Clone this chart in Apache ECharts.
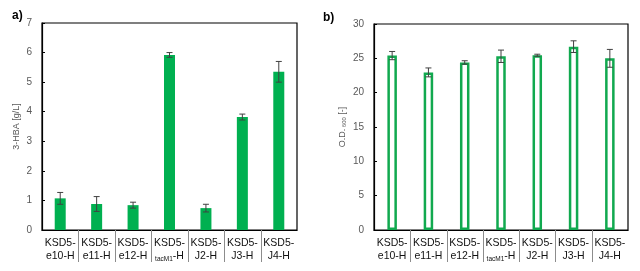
<!DOCTYPE html>
<html><head><meta charset="utf-8">
<script src="https://cdn.jsdelivr.net/npm/echarts@6/dist/echarts.min.js"></script>
<style>html,body{margin:0;padding:0;background:#fff}#c{width:640px;height:271px}</style>
</head><body><div id="c"></div>
<script>
const categories = ['e10-H','e11-H','e12-H','tacM1-H','J2-H','J3-H','J4-H'];
const hbaValues = [1.07, 0.88, 0.84, 5.92, 0.74, 3.82, 5.35];
const hbaErrors = [0.20, 0.25, 0.10, 0.08, 0.13, 0.10, 0.35];
const odValues = [25.4, 22.95, 24.4, 25.3, 25.45, 26.7, 25.0];
const odErrors = [0.6, 0.65, 0.25, 0.9, 0.15, 0.85, 1.3];
const leftTicks = {min: 0, max: 7, interval: 1};
const rightTicks = {min: 0, max: 30, interval: 5};

const chart = echarts.init(document.getElementById('c'), null, {renderer: 'canvas'});
const FONT = 'Liberation Sans';
function fmtCat(v) {
  if (v === 'tacM1-H') return '{a|KSD5-}\n{s|tacM1}{a|-H}';
  return '{a|KSD5-}\n{a|' + v + '}';
}
const xLabel = {
  interval: 0, margin: 7, formatter: fmtCat, lineHeight: 13,
  rich: {
    a: {fontFamily: FONT, fontSize: 10.5, color: '#111', lineHeight: 13},
    s: {fontFamily: FONT, fontSize: 6.5, color: '#111', lineHeight: 13, verticalAlign: 'bottom'}
  }
};
function xAxis(gi) {
  return {
    type: 'category', gridIndex: gi, data: categories,
    axisLine: {lineStyle: {color: '#000', width: 1.2}},
    axisTick: {show: false},
    axisLabel: xLabel
  };
}
function sepSeries(gi) {
  return {
    type: 'custom', xAxisIndex: gi, yAxisIndex: gi, clip: false, silent: true,
    data: categories.slice(1).map((c, i) => [i + 1, 0]),
    renderItem: function (params, api) {
      const p = api.coord([api.value(0), 0]);
      const bw = api.size([1, 0])[0];
      const x = Math.round(p[0] - bw / 2) + 0.5;
      return {type: 'line', shape: {x1: x, y1: p[1], x2: x, y2: p[1] + 32},
              style: {stroke: '#8c8c8c', lineWidth: 1}};
    }
  };
}
function errSeries(gi, vals, errs) {
  return {
    type: 'custom', xAxisIndex: gi, yAxisIndex: gi, z: 10,
    data: vals.map((v, i) => [i, v, errs[i]]),
    renderItem: function (params, api) {
      const x = api.value(0), y = api.value(1), e = api.value(2);
      const hi = api.coord([x, y + e]);
      const lo = api.coord([x, y - e]);
      const w = 3;
      const st = {stroke: '#404040', lineWidth: 1};
      return {type: 'group', children: [
        {type: 'line', shape: {x1: hi[0], y1: hi[1], x2: lo[0], y2: lo[1]}, style: st},
        {type: 'line', shape: {x1: hi[0] - w, y1: hi[1], x2: hi[0] + w, y2: hi[1]}, style: st},
        {type: 'line', shape: {x1: lo[0] - w, y1: lo[1], x2: lo[0] + w, y2: lo[1]}, style: st}
      ]};
    }
  };
}
const yLabel = {fontFamily: FONT, fontSize: 10, color: '#595959', margin: 10};
const yTick = {show: true, inside: true, length: 3, lineStyle: {color: '#000', width: 1}};
chart.setOption({
  animation: false,
  title: [
    {text: 'a)', left: 7, top: 5, textStyle: {fontFamily: FONT, fontSize: 12, fontWeight: 'bold', color: '#000'}},
    {text: 'b)', left: 318, top: 7, textStyle: {fontFamily: FONT, fontSize: 12, fontWeight: 'bold', color: '#000'}}
  ],
  grid: [
    {left: 42, top: 23, right: 343, bottom: 41, show: true, borderColor: '#000', borderWidth: 1.2, backgroundColor: 'transparent'},
    {left: 374, top: 24, right: 12, bottom: 41, show: true, borderColor: '#000', borderWidth: 1.2, backgroundColor: 'transparent'}
  ],
  xAxis: [xAxis(0), xAxis(1)],
  yAxis: [
    {type: 'value', gridIndex: 0, min: leftTicks.min, max: leftTicks.max, interval: leftTicks.interval,
     splitLine: {show: false}, axisLine: {show: true, lineStyle: {color: '#000', width: 1.2}},
     axisTick: yTick, axisLabel: yLabel,
     name: '3-HBA [g/L]', nameLocation: 'middle', nameRotate: 90, nameGap: 21,
     nameTextStyle: {fontFamily: FONT, fontSize: 9, color: '#595959'}},
    {type: 'value', gridIndex: 1, min: rightTicks.min, max: rightTicks.max, interval: rightTicks.interval,
     splitLine: {show: false}, axisLine: {show: true, lineStyle: {color: '#000', width: 1.2}},
     axisTick: yTick, axisLabel: yLabel,
     name: '{a|O.D.}{s| 600}{a| [-]}', nameLocation: 'middle', nameRotate: 90, nameGap: 27,
     nameTextStyle: {rich: {
       a: {fontFamily: FONT, fontSize: 9, color: '#595959'},
       s: {fontFamily: FONT, fontSize: 6, color: '#595959', verticalAlign: 'bottom'}
     }}}
  ],
  series: [
    {type: 'bar', xAxisIndex: 0, yAxisIndex: 0, data: hbaValues, barWidth: 11,
     itemStyle: {color: '#00B050'}},
    errSeries(0, hbaValues, hbaErrors),
    sepSeries(0),
    {type: 'bar', xAxisIndex: 1, yAxisIndex: 1, data: odValues, barWidth: 9.5,
     itemStyle: {color: 'rgba(255,255,255,0)', borderColor: '#11A94F', borderWidth: 2.5}},
    errSeries(1, odValues, odErrors),
    sepSeries(1)
  ]
});
</script>
</body></html>
